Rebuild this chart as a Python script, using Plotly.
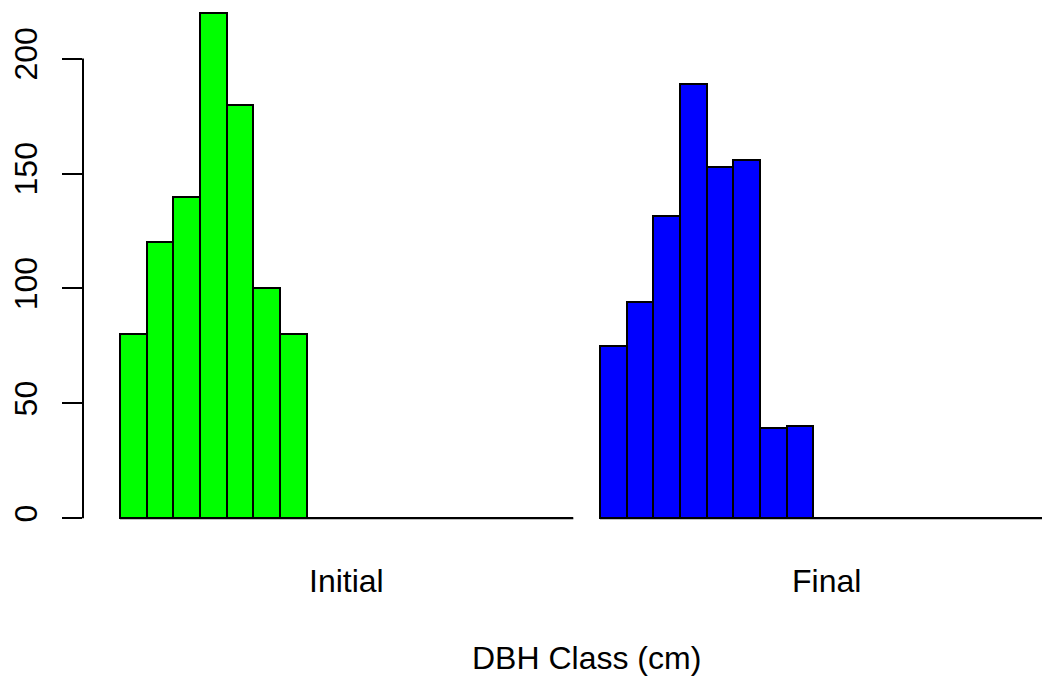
import plotly.graph_objects as go

# Data (counts per DBH class)
n_classes = 17
initial_counts = [80, 120, 140, 220, 180, 100, 80, 0, 0, 0, 0, 0, 0, 0, 0, 0, 0]
final_counts = [75, 94, 131.5, 189, 153, 156, 39.5, 40, 0, 0, 0, 0, 0, 0, 0, 0, 0]
group_labels = ["Initial", "Final"]
group_colors = ["#00FF00", "#0000FF"]
y_ticks = [0, 50, 100, 150, 200]
x_title = "DBH Class (cm)"

FONT = "Liberation Sans, Arial, sans-serif"
FS = 32

groups = [initial_counts, final_counts]
fig = go.Figure()
centers = []
edges = []
for g, (vals, col) in enumerate(zip(groups, group_colors)):
    start = g * (n_classes + 1)
    xs = [start + i + 0.5 for i in range(len(vals))]
    fig.add_trace(go.Bar(
        x=xs, y=vals, width=1.0,
        marker=dict(color=col, line=dict(color="black", width=2)),
        showlegend=False,
    ))
    # baseline of zero-height bars
    fig.add_trace(go.Scatter(
        x=[start, start + len(vals)], y=[0, 0], mode="lines",
        line=dict(color="black", width=2), showlegend=False, hoverinfo="skip",
    ))
    centers.append(start + len(vals) / 2)
    edges.extend([start, start + len(vals)])

for lab, cx in zip(group_labels, centers):
    fig.add_annotation(x=cx, xref="x", y=-0.076, yref="paper", text=lab,
                       showarrow=False, font=dict(family=FONT, size=FS, color="black"),
                       xanchor="center", yanchor="middle")

fig.add_annotation(x=(min(edges) + max(edges)) / 2, xref="x", y=-0.2185, yref="paper",
                   text=x_title, showarrow=False,
                   font=dict(family=FONT, size=FS, color="black"),
                   xanchor="center", yanchor="middle")

# y axis line only over the tick span
fig.add_shape(type="line", xref="paper", x0=0, x1=0, yref="y",
              y0=min(y_ticks), y1=max(y_ticks), line=dict(color="black", width=2))

fig.update_layout(
    width=1042, height=677,
    margin=dict(l=83, r=0, t=0, b=137),
    paper_bgcolor="white", plot_bgcolor="white",
    bargap=0,
    xaxis=dict(range=[-1.3875, 34.575], showgrid=False, zeroline=False,
               showline=False, showticklabels=False, ticks=""),
    yaxis=dict(range=[-9.44, 225.5], showgrid=False, zeroline=False, showline=False,
               tickvals=y_ticks, ticktext=[str(v) for v in y_ticks],
               ticks="outside", ticklen=20, tickwidth=2, tickcolor="black",
               tickangle=-90, ticklabelstandoff=12,
               tickfont=dict(family=FONT, size=FS, color="black")),
    font=dict(family=FONT, size=FS, color="black"),
)

fig.write_html("out.html", config={"displayModeBar": False})

# remove the default page margin so the figure sits at the window's corner
with open("out.html", "r", encoding="utf-8") as f:
    html = f.read()
html = html.replace("<body>", '<body style="margin:0;padding:0;">', 1)
with open("out.html", "w", encoding="utf-8") as f:
    f.write(html)
